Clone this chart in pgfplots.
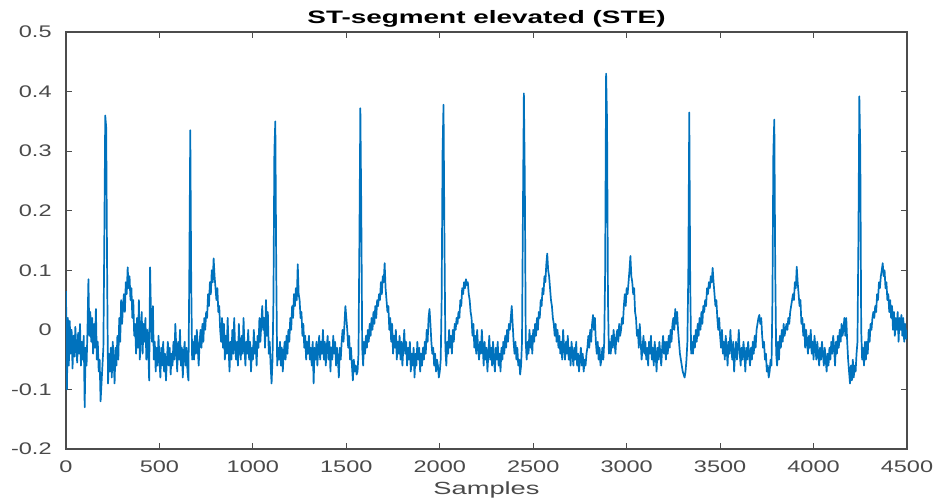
\documentclass[border=0pt]{standalone}
\usepackage{pgfplots}
\pgfplotsset{compat=1.18}
\usepackage{graphicx}
\usepackage{fontspec}
\setmainfont{Liberation Sans}
\definecolor{mblue}{HTML}{0072BD}
\definecolor{tickgray}{HTML}{4A4A4A}
\newcommand{\hs}[1]{\scalebox{1.4}[1]{#1}}
\begin{document}
\begin{tikzpicture}
\begin{axis}[
  scale only axis, width=420.5pt, height=208.5pt,
  xmin=0, xmax=4500, ymin=-0.2, ymax=0.5,
  axis line style={black!70, line width=0.6pt},
  tick style={black!70, line width=0.6pt},
  tick align=inside, major tick length=3pt,
  xtick={0,500,1000,1500,2000,2500,3000,3500,4000,4500},
  xticklabels={\hs{0},\hs{500},\hs{1000},\hs{1500},\hs{2000},\hs{2500},\hs{3000},\hs{3500},\hs{4000},\hs{4500}},
  ytick={-0.2,-0.1,0,0.1,0.2,0.3,0.4,0.5},
  yticklabels={\hs{-0.2},\hs{-0.1},\hs{0},\hs{0.1},\hs{0.2},\hs{0.3},\hs{0.4},\hs{0.5}},
  xticklabel style={font=\fontsize{8.4}{10}\selectfont, text=tickgray, anchor=base, inner sep=0pt, yshift=-12pt},
  yticklabel style={font=\fontsize{8.4}{10}\selectfont, text=tickgray, anchor=east, inner sep=0pt, xshift=-7pt},
  every axis title shift=0pt,
  title={\scalebox{1.55}[1]{\textbf{ST-segment elevated (STE)}}},
  title style={font=\fontsize{9}{10}\selectfont, at={(0.5,1)}, anchor=base, yshift=4pt, inner sep=0pt},
  xlabel={\scalebox{1.55}[1]{Samples}},
  xlabel style={font=\fontsize{8.8}{10}\selectfont, text=tickgray, at={(0.5,0)}, anchor=base, yshift=-23pt, inner sep=0pt},
  clip=true,
]
\addplot[mblue, line width=0.85pt, line join=round] coordinates {
(0,0.065)(5,-0.1)(10,0.02)(15,-0.06)(20,0.015)(25,-0.04)(30,0.0)(35,-0.065)(40,-0.01)(45,-0.045)
(50,0.005)(55,-0.03)(60,-0.055)(65,-0.005)(70,-0.04)(75,0.01)(80,-0.06)(85,-0.02)(90,-0.05)(95,-0.01)
(100,-0.13)(105,-0.03)(110,-0.06)(115,0.0)(120,0.085)(125,-0.01)(130,0.03)(135,-0.02)(140,0.02)(145,-0.04)
(150,0.01)(155,-0.03)(160,0.035)(165,-0.05)(170,-0.02)(175,-0.07)(180,-0.05)(185,-0.12)(190,-0.09)(195,-0.06)
(200,-0.03)(205,0.15)(210,0.36)(215,0.34)(220,0.1)(225,-0.09)(230,-0.04)(235,-0.07)(240,-0.03)(245,-0.08)
(250,-0.02)(255,-0.05)(260,-0.09)(265,-0.03)(270,-0.06)(275,-0.01)(280,-0.05)(285,0.02)(290,-0.02)(295,0.05)
(300,0.01)(305,0.04)(310,0.06)(315,0.03)(320,0.08)(325,0.06)(330,0.105)(335,0.07)(340,0.09)(345,0.05)
(350,0.07)(355,0.02)(360,0.05)(365,-0.01)(370,0.01)(375,-0.04)(380,0.02)(385,-0.03)(390,0.05)(395,-0.05)
(400,-0.01)(405,0.03)(410,-0.04)(415,0.01)(420,-0.02)(425,0.02)(430,-0.05)(435,0.0)(440,-0.03)(445,-0.085)
(450,0.105)(455,0.02)(460,-0.02)(465,0.04)(470,-0.05)(475,-0.02)(480,-0.07)(485,-0.03)(490,-0.06)(495,-0.01)
(500,-0.05)(505,-0.08)(510,-0.03)(515,-0.06)(520,-0.02)(525,-0.07)(530,-0.04)(535,-0.085)(540,-0.05)(545,-0.02)
(550,-0.06)(555,-0.03)(560,-0.075)(565,-0.04)(570,-0.06)(575,-0.02)(580,-0.05)(585,0.01)(590,-0.03)(595,-0.07)
(600,-0.02)(605,-0.05)(610,0.0)(615,-0.06)(620,-0.03)(625,-0.08)(630,-0.04)(635,-0.02)(640,-0.06)(645,-0.03)
(650,-0.07)(655,-0.085)(660,0.1)(665,0.335)(670,0.08)(675,-0.05)(680,-0.02)(685,-0.05)(690,-0.01)(695,-0.04)
(700,0.0)(705,-0.03)(710,-0.06)(715,-0.02)(720,0.0)(725,-0.03)(730,0.01)(735,-0.02)(740,0.02)(745,0.0)
(750,0.03)(755,0.02)(760,0.06)(765,0.04)(770,0.08)(775,0.06)(780,0.1)(785,0.08)(790,0.12)(795,0.09)
(800,0.07)(805,0.05)(810,0.07)(815,0.03)(820,0.04)(825,0.0)(830,-0.02)(835,0.02)(840,-0.03)(845,0.01)
(850,-0.05)(855,-0.01)(860,-0.04)(865,0.02)(870,-0.03)(875,-0.07)(880,-0.02)(885,-0.05)(890,0.0)(895,-0.04)
(900,0.02)(905,-0.03)(910,-0.05)(915,-0.02)(920,-0.06)(925,0.01)(930,-0.03)(935,-0.05)(940,-0.01)(945,-0.04)
(950,0.02)(955,-0.03)(960,-0.06)(965,-0.02)(970,-0.04)(975,0.0)(980,-0.05)(985,-0.02)(990,-0.07)(995,-0.03)
(1000,-0.05)(1005,0.0)(1010,-0.04)(1015,-0.02)(1020,-0.06)(1025,-0.01)(1030,-0.03)(1035,0.02)(1040,-0.02)(1045,0.01)
(1050,0.04)(1055,0.0)(1060,0.02)(1065,-0.03)(1070,0.05)(1075,-0.01)(1080,0.03)(1085,-0.04)(1090,-0.02)(1095,-0.06)
(1100,-0.09)(1105,-0.05)(1110,0.05)(1115,0.3)(1120,0.35)(1125,0.1)(1130,-0.06)(1135,-0.03)(1140,-0.05)(1145,-0.02)
(1150,-0.06)(1155,-0.03)(1160,-0.07)(1165,-0.04)(1170,-0.02)(1175,-0.05)(1180,-0.01)(1185,-0.04)(1190,0.0)(1195,-0.02)
(1200,0.02)(1205,0.0)(1210,0.04)(1215,0.02)(1220,0.06)(1225,0.04)(1230,0.07)(1235,0.05)(1240,0.11)(1245,0.06)
(1250,0.05)(1255,0.02)(1260,0.03)(1265,-0.01)(1270,0.01)(1275,-0.03)(1280,-0.01)(1285,-0.05)(1290,-0.02)(1295,-0.04)
(1300,-0.01)(1305,-0.05)(1310,-0.03)(1315,-0.06)(1320,-0.02)(1325,-0.09)(1330,-0.03)(1335,-0.05)(1340,-0.02)(1345,-0.06)
(1350,-0.03)(1355,-0.01)(1360,-0.05)(1365,-0.02)(1370,-0.04)(1375,0.0)(1380,-0.05)(1385,-0.02)(1390,-0.06)(1395,-0.03)
(1400,-0.01)(1405,-0.05)(1410,-0.02)(1415,-0.07)(1420,-0.03)(1425,-0.05)(1430,-0.01)(1435,-0.04)(1440,-0.02)(1445,-0.06)
(1450,-0.03)(1455,-0.05)(1460,-0.08)(1465,-0.03)(1470,-0.05)(1475,-0.02)(1480,0.0)(1485,-0.02)(1490,0.01)(1495,0.04)
(1500,0.02)(1505,0.0)(1510,-0.03)(1515,-0.01)(1520,-0.05)(1525,-0.03)(1530,-0.06)(1535,-0.085)(1540,-0.05)(1545,-0.07)
(1550,-0.06)(1555,-0.075)(1560,-0.07)(1565,-0.04)(1570,0.15)(1575,0.372)(1580,0.2)(1585,-0.03)(1590,-0.06)(1595,-0.02)
(1600,-0.04)(1605,-0.01)(1610,-0.03)(1615,0.0)(1620,-0.02)(1625,0.01)(1630,-0.01)(1635,0.02)(1640,0.0)(1645,0.03)
(1650,0.01)(1655,0.04)(1660,0.02)(1665,0.05)(1670,0.04)(1675,0.06)(1680,0.05)(1685,0.08)(1690,0.06)(1695,0.09)
(1700,0.08)(1705,0.112)(1710,0.07)(1715,0.05)(1720,0.03)(1725,0.04)(1730,0.0)(1735,0.02)(1740,-0.02)(1745,0.01)
(1750,-0.04)(1755,-0.01)(1760,-0.03)(1765,0.0)(1770,-0.05)(1775,-0.02)(1780,-0.04)(1785,-0.01)(1790,-0.05)(1795,-0.02)
(1800,-0.06)(1805,-0.03)(1810,0.0)(1815,-0.04)(1820,-0.02)(1825,-0.06)(1830,-0.03)(1835,-0.05)(1840,-0.02)(1845,-0.07)
(1850,-0.04)(1855,-0.06)(1860,-0.03)(1865,-0.08)(1870,-0.04)(1875,-0.06)(1880,-0.02)(1885,-0.05)(1890,-0.03)(1895,-0.07)
(1900,-0.04)(1905,-0.06)(1910,-0.03)(1915,-0.05)(1920,-0.02)(1925,-0.04)(1930,0.0)(1935,-0.02)(1940,0.02)(1945,0.035)
(1950,0.01)(1955,-0.02)(1960,-0.04)(1965,-0.03)(1970,-0.06)(1975,-0.04)(1980,-0.07)(1985,-0.05)(1990,-0.06)(1995,-0.08)
(2000,-0.07)(2005,-0.05)(2010,0.05)(2015,0.3)(2020,0.378)(2025,0.15)(2030,-0.03)(2035,-0.06)(2040,-0.02)(2045,-0.04)
(2050,0.0)(2055,-0.03)(2060,-0.01)(2065,-0.04)(2070,0.0)(2075,-0.02)(2080,0.01)(2085,0.0)(2090,0.02)(2095,0.01)
(2100,0.03)(2105,0.02)(2110,0.05)(2115,0.04)(2120,0.07)(2125,0.06)(2130,0.08)(2135,0.07)(2140,0.085)(2145,0.075)
(2150,0.08)(2155,0.06)(2160,0.05)(2165,0.03)(2170,0.02)(2175,-0.01)(2180,0.01)(2185,-0.03)(2190,-0.01)(2195,-0.04)
(2200,0.0)(2205,-0.03)(2210,-0.05)(2215,-0.02)(2220,-0.04)(2225,0.0)(2230,-0.03)(2235,-0.06)(2240,-0.02)(2245,-0.05)
(2250,-0.03)(2255,-0.07)(2260,-0.04)(2265,-0.01)(2270,-0.05)(2275,-0.03)(2280,-0.06)(2285,-0.02)(2290,-0.05)(2295,-0.07)
(2300,-0.03)(2305,-0.05)(2310,-0.02)(2315,-0.06)(2320,-0.04)(2325,-0.07)(2330,-0.03)(2335,-0.05)(2340,-0.02)(2345,-0.04)
(2350,-0.01)(2355,-0.03)(2360,0.0)(2365,-0.02)(2370,0.01)(2375,0.0)(2380,0.02)(2385,0.04)(2390,0.01)(2395,-0.02)
(2400,-0.04)(2405,-0.02)(2410,-0.05)(2415,-0.03)(2420,-0.06)(2425,-0.05)(2430,-0.075)(2435,-0.06)(2440,-0.02)(2445,0.2)
(2450,0.397)(2455,0.25)(2460,-0.02)(2465,-0.05)(2470,-0.02)(2475,-0.04)(2480,0.0)(2485,-0.03)(2490,-0.01)(2495,-0.04)
(2500,0.0)(2505,-0.02)(2510,0.01)(2515,-0.01)(2520,0.02)(2525,0.0)(2530,0.03)(2535,0.02)(2540,0.05)(2545,0.04)
(2550,0.07)(2555,0.06)(2560,0.09)(2565,0.08)(2570,0.11)(2575,0.128)(2580,0.1)(2585,0.09)(2590,0.07)(2595,0.05)
(2600,0.04)(2605,0.02)(2610,0.01)(2615,-0.01)(2620,0.01)(2625,-0.02)(2630,0.0)(2635,-0.03)(2640,-0.01)(2645,-0.04)
(2650,-0.02)(2655,-0.05)(2660,0.0)(2665,-0.03)(2670,-0.05)(2675,-0.02)(2680,-0.04)(2685,-0.01)(2690,-0.05)(2695,-0.03)
(2700,-0.06)(2705,-0.02)(2710,-0.04)(2715,-0.06)(2720,-0.03)(2725,-0.05)(2730,-0.02)(2735,-0.06)(2740,-0.04)(2745,-0.07)
(2750,-0.05)(2755,-0.03)(2760,-0.06)(2765,-0.04)(2770,-0.07)(2775,-0.05)(2780,-0.06)(2785,-0.04)(2790,-0.03)(2795,-0.01)
(2800,-0.03)(2805,0.0)(2810,-0.02)(2815,0.01)(2820,0.025)(2825,0.0)(2830,0.02)(2835,-0.02)(2840,-0.04)(2845,-0.02)
(2850,-0.05)(2855,-0.03)(2860,-0.06)(2865,-0.05)(2870,-0.03)(2875,-0.05)(2880,-0.02)(2885,0.1)(2890,0.43)(2895,0.35)
(2900,0.05)(2905,-0.04)(2910,-0.02)(2915,-0.04)(2920,-0.01)(2925,-0.03)(2930,0.0)(2935,-0.02)(2940,-0.04)(2945,-0.01)
(2950,0.0)(2955,-0.02)(2960,0.01)(2965,-0.01)(2970,0.0)(2975,0.02)(2980,0.01)(2985,0.04)(2990,0.06)(2995,0.04)
(3000,0.07)(3005,0.06)(3010,0.08)(3015,0.1)(3020,0.124)(3025,0.09)(3030,0.08)(3035,0.06)(3040,0.07)(3045,0.03)
(3050,0.02)(3055,-0.01)(3060,0.0)(3065,-0.03)(3070,0.01)(3075,-0.02)(3080,-0.05)(3085,-0.03)(3090,-0.01)(3095,-0.04)
(3100,-0.02)(3105,-0.05)(3110,-0.03)(3115,-0.06)(3120,-0.02)(3125,-0.04)(3130,-0.01)(3135,-0.05)(3140,-0.03)(3145,-0.06)
(3150,-0.02)(3155,-0.04)(3160,-0.07)(3165,-0.03)(3170,-0.05)(3175,-0.02)(3180,-0.04)(3185,-0.06)(3190,-0.03)(3195,-0.01)
(3200,-0.04)(3205,-0.02)(3210,-0.05)(3215,-0.02)(3220,-0.04)(3225,-0.01)(3230,-0.03)(3235,0.0)(3240,-0.02)(3245,0.01)
(3250,0.02)(3255,0.0)(3260,0.035)(3265,0.01)(3270,0.03)(3275,0.0)(3280,-0.02)(3285,-0.04)(3290,-0.05)(3295,-0.06)
(3300,-0.07)(3305,-0.075)(3310,-0.08)(3315,-0.07)(3320,-0.05)(3325,-0.02)(3330,0.1)(3335,0.365)(3340,0.08)(3345,-0.04)
(3350,-0.02)(3355,-0.04)(3360,-0.01)(3365,-0.03)(3370,0.0)(3375,-0.02)(3380,0.01)(3385,-0.01)(3390,0.02)(3395,0.0)
(3400,0.03)(3405,0.01)(3410,0.04)(3415,0.03)(3420,0.05)(3425,0.04)(3430,0.07)(3435,0.06)(3440,0.08)(3445,0.07)
(3450,0.09)(3455,0.08)(3460,0.104)(3465,0.08)(3470,0.06)(3475,0.04)(3480,0.05)(3485,0.02)(3490,0.0)(3495,0.02)
(3500,-0.01)(3505,-0.03)(3510,0.0)(3515,-0.04)(3520,-0.02)(3525,-0.05)(3530,-0.01)(3535,-0.03)(3540,-0.06)(3545,-0.02)
(3550,-0.04)(3555,0.0)(3560,-0.03)(3565,-0.05)(3570,-0.02)(3575,-0.07)(3580,-0.04)(3585,-0.02)(3590,-0.05)(3595,-0.03)
(3600,0.0)(3605,-0.04)(3610,-0.06)(3615,-0.03)(3620,-0.05)(3625,-0.02)(3630,-0.04)(3635,-0.07)(3640,-0.03)(3645,-0.05)
(3650,-0.02)(3655,-0.04)(3660,-0.06)(3665,-0.03)(3670,-0.05)(3675,-0.02)(3680,-0.04)(3685,-0.01)(3690,-0.03)(3695,0.0)
(3700,0.01)(3705,0.02)(3710,0.025)(3715,0.01)(3720,0.02)(3725,-0.01)(3730,-0.03)(3735,-0.02)(3740,-0.05)(3745,-0.04)
(3750,-0.07)(3755,-0.06)(3760,-0.08)(3765,-0.07)(3770,-0.05)(3775,-0.06)(3780,0.05)(3785,0.3)(3790,0.353)(3795,0.1)
(3800,-0.04)(3805,-0.06)(3810,-0.02)(3815,-0.05)(3820,-0.01)(3825,-0.03)(3830,0.0)(3835,-0.02)(3840,0.01)(3845,-0.01)
(3850,0.0)(3855,0.01)(3860,0.0)(3865,0.02)(3870,0.01)(3875,0.03)(3880,0.04)(3885,0.05)(3890,0.06)(3895,0.05)
(3900,0.08)(3905,0.07)(3910,0.106)(3915,0.08)(3920,0.06)(3925,0.04)(3930,0.05)(3935,0.01)(3940,0.02)(3945,-0.01)
(3950,0.01)(3955,-0.03)(3960,0.0)(3965,-0.02)(3970,-0.04)(3975,-0.01)(3980,-0.03)(3985,0.0)(3990,-0.04)(3995,-0.02)
(4000,-0.05)(4005,-0.01)(4010,-0.03)(4015,-0.05)(4020,-0.02)(4025,-0.04)(4030,-0.06)(4035,-0.03)(4040,-0.05)(4045,-0.02)
(4050,-0.04)(4055,-0.06)(4060,-0.03)(4065,-0.05)(4070,-0.07)(4075,-0.04)(4080,-0.06)(4085,-0.03)(4090,-0.05)(4095,-0.02)
(4100,-0.04)(4105,-0.01)(4110,-0.03)(4115,-0.06)(4120,-0.02)(4125,-0.04)(4130,-0.01)(4135,-0.03)(4140,0.0)(4145,-0.02)
(4150,0.01)(4155,-0.01)(4160,0.0)(4165,0.02)(4170,-0.01)(4175,0.02)(4180,-0.02)(4185,-0.05)(4190,-0.07)(4195,-0.09)
(4200,-0.06)(4205,-0.085)(4210,-0.05)(4215,-0.08)(4220,-0.06)(4225,-0.07)(4230,-0.04)(4235,-0.02)(4240,0.15)(4245,0.392)
(4250,0.3)(4255,0.0)(4260,-0.05)(4265,-0.03)(4270,-0.06)(4275,-0.02)(4280,-0.05)(4285,-0.02)(4290,-0.04)(4295,0.0)
(4300,-0.02)(4305,0.01)(4310,0.0)(4315,0.02)(4320,0.03)(4325,0.02)(4330,0.04)(4335,0.03)(4340,0.06)(4345,0.05)
(4350,0.08)(4355,0.07)(4360,0.09)(4365,0.1)(4370,0.112)(4375,0.09)(4380,0.1)(4385,0.07)(4390,0.08)(4395,0.05)
(4400,0.06)(4405,0.03)(4410,0.05)(4415,0.02)(4420,0.04)(4425,0.0)(4430,0.03)(4435,-0.01)(4440,0.02)(4445,0.0)
(4450,0.03)(4455,-0.02)(4460,0.02)(4465,0.0)(4470,0.025)(4475,-0.01)(4480,0.02)(4485,-0.02)(4490,0.01)(4495,-0.015)
(4500,0.0)
};
\end{axis}
\pgfresetboundingbox
\path (current axis.south west) ++(-33pt,-26.5pt) coordinate (bbA);
\path (current axis.north east) ++(14.5pt,16pt) coordinate (bbB);
\useasboundingbox (bbA) rectangle (bbB);
\end{tikzpicture}
\end{document}
